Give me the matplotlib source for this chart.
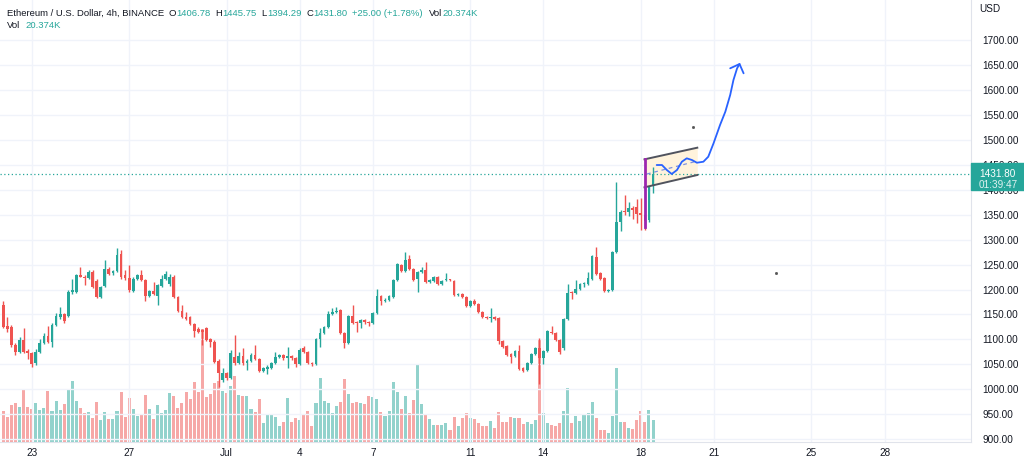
import matplotlib
matplotlib.use('Agg')
import matplotlib.pyplot as plt
import matplotlib.transforms as mtransforms
from matplotlib.patches import Rectangle
import numpy as np
import pandas as pd

# ETH/USD 4h candles (Binance)
opens = [1169, 1126, 1125, 1089, 1075, 1099, 1077, 1073, 1052, 1075,
         1092, 1106, 1095, 1129, 1144, 1150, 1147, 1195, 1196, 1229,
         1226, 1224, 1236, 1218, 1184, 1207, 1242, 1234, 1238, 1272,
         1229, 1224, 1198, 1221, 1230, 1220, 1187, 1198, 1186, 1208,
         1222, 1212, 1226, 1184, 1157, 1145, 1144, 1131, 1120, 1119,
         1122, 1100, 1095, 1057, 1018, 1032, 1022, 1065, 1053, 1067,
         1052, 1057, 1069, 1060, 1037, 1041, 1043, 1053, 1065, 1068,
         1062, 1066, 1062, 1051, 1082, 1074, 1053, 1051, 1101, 1112,
         1125, 1151, 1154, 1159, 1112, 1093, 1147, 1135, 1132, 1139,
         1135, 1133, 1153, 1187, 1176, 1179, 1184, 1220, 1249, 1238,
         1262, 1242, 1222, 1236, 1240, 1216, 1218, 1226, 1211, 1219,
         1220, 1218, 1189, 1191, 1184, 1166, 1176, 1170, 1155, 1144,
         1142, 1145, 1143, 1097, 1087, 1071, 1066, 1077, 1043, 1038,
         1053, 1071, 1082, 1062, 1077, 1115, 1113, 1099, 1082, 1141,
         1196, 1193, 1201, 1211, 1211, 1222, 1266, 1233, 1224, 1197,
         1199, 1276, 1336, 1358, 1355, 1363, 1365, 1354, 1350, 1339,
         1406.78]
highs = [1176, 1145, 1128, 1092, 1105, 1122, 1080, 1075, 1080, 1100,
         1112, 1127, 1132, 1152, 1165, 1153, 1200, 1222, 1232, 1246,
         1229, 1240, 1239, 1221, 1208, 1259, 1245, 1240, 1284, 1279,
         1239, 1249, 1225, 1232, 1239, 1222, 1200, 1216, 1212, 1229,
         1238, 1232, 1230, 1186, 1169, 1155, 1146, 1133, 1124, 1121,
         1125, 1102, 1098, 1060, 1042, 1035, 1079, 1109, 1075, 1082,
         1060, 1072, 1089, 1062, 1045, 1048, 1055, 1075, 1070, 1070,
         1084, 1068, 1064, 1082, 1086, 1076, 1055, 1103, 1122, 1127,
         1156, 1162, 1165, 1161, 1114, 1149, 1169, 1137, 1141, 1141,
         1137, 1155, 1202, 1189, 1182, 1188, 1222, 1254, 1251, 1276,
         1269, 1244, 1238, 1246, 1256, 1222, 1228, 1228, 1220, 1233,
         1222, 1220, 1193, 1193, 1186, 1178, 1180, 1172, 1157, 1146,
         1162, 1147, 1145, 1099, 1089, 1073, 1079, 1089, 1045, 1055,
         1073, 1084, 1102, 1079, 1119, 1127, 1115, 1101, 1143, 1212,
         1198, 1220, 1213, 1216, 1236, 1269, 1286, 1235, 1226, 1202,
         1278, 1416, 1360, 1389, 1376, 1368, 1381, 1383, 1352, 1408,
         1445.75]
lows = [1122, 1115, 1085, 1069, 1072, 1072, 1060, 1045, 1049, 1072,
        1090, 1093, 1085, 1126, 1140, 1133, 1145, 1192, 1194, 1226,
        1209, 1222, 1203, 1182, 1182, 1205, 1230, 1230, 1236, 1222,
        1220, 1196, 1196, 1219, 1218, 1176, 1184, 1190, 1169, 1206,
        1220, 1208, 1182, 1154, 1142, 1138, 1129, 1105, 1112, 1089,
        1097, 1085, 1052, 1005, 1015, 1018, 1020, 1048, 1050, 1048,
        1038, 1055, 1058, 1035, 1035, 1031, 1041, 1051, 1063, 1058,
        1042, 1058, 1044, 1049, 1072, 1050, 1047, 1049, 1085, 1110,
        1123, 1149, 1152, 1110, 1082, 1090, 1131, 1115, 1122, 1130,
        1126, 1131, 1151, 1169, 1174, 1177, 1182, 1218, 1236, 1236,
        1240, 1218, 1196, 1234, 1214, 1214, 1216, 1209, 1209, 1217,
        1217, 1187, 1187, 1182, 1164, 1164, 1168, 1153, 1142, 1140,
        1135, 1138, 1090, 1083, 1067, 1053, 1064, 1038, 1035, 1036,
        1051, 1069, 1010, 1050, 1075, 1110, 1097, 1070, 1078, 1139,
        1180, 1191, 1199, 1205, 1209, 1220, 1230, 1220, 1195, 1195,
        1197, 1274, 1318, 1350, 1348, 1341, 1333, 1320, 1320, 1336,
        1394.29]
closes = [1124, 1120, 1089, 1075, 1099, 1075, 1072, 1051, 1075, 1092,
          1106, 1095, 1129, 1146, 1150, 1136, 1196, 1199, 1229, 1226,
          1224, 1236, 1206, 1184, 1206, 1242, 1232, 1237, 1269, 1226,
          1224, 1199, 1222, 1229, 1220, 1187, 1198, 1192, 1209, 1222,
          1232, 1226, 1184, 1156, 1144, 1141, 1131, 1117, 1115, 1115,
          1099, 1095, 1055, 1032, 1032, 1022, 1072, 1053, 1067, 1052,
          1057, 1069, 1060, 1037, 1043, 1045, 1053, 1065, 1068, 1062,
          1066, 1062, 1051, 1079, 1074, 1052, 1051, 1101, 1112, 1125,
          1151, 1154, 1157, 1112, 1093, 1147, 1133, 1132, 1139, 1134,
          1133, 1153, 1187, 1176, 1179, 1186, 1220, 1252, 1238, 1260,
          1242, 1220, 1236, 1240, 1216, 1220, 1226, 1211, 1218, 1221,
          1219, 1189, 1191, 1184, 1166, 1176, 1170, 1155, 1144, 1142,
          1145, 1140, 1097, 1085, 1069, 1065, 1077, 1040, 1037, 1053,
          1071, 1082, 1062, 1077, 1117, 1112, 1099, 1075, 1141, 1194,
          1193, 1201, 1211, 1212, 1224, 1267, 1232, 1222, 1197, 1200,
          1276, 1336, 1356, 1355, 1363, 1359, 1351, 1349, 1338, 1406,
          1431.80]
# volume in thousands of ETH
volumes = [29.1, 23.5, 34.8, 36.4, 33.2, 49.5, 32.9, 31.3, 36.7, 30.1,
           32.3, 48.0, 29.1, 38.5, 29.8, 35.4, 49.5, 57.4, 38.5, 31.7,
           27.0, 28.5, 22.3, 37.9, 21.0, 27.9, 21.6, 21.3, 29.1, 47.0,
           23.5, 41.7, 30.7, 24.4, 26.6, 44.2, 30.7, 21.6, 34.8, 27.6,
           29.8, 46.1, 43.6, 31.7, 36.7, 47.3, 40.1, 56.4, 47.0, 105.9,
           42.3, 45.4, 55.8, 57.4, 47.9, 46.4, 52.7, 62.1, 44.2, 43.2,
           43.2, 30.7, 28.2, 40.7, 17.9, 25.4, 26.6, 23.8, 15.4, 18.8,
           41.7, 19.1, 22.3, 20.4, 26.0, 29.1, 15.0, 37.0, 59.9, 38.5,
           37.0, 27.5, 33.8, 37.9, 58.9, 45.4, 37.0, 37.9, 36.4, 35.4,
           42.9, 42.3, 40.1, 28.2, 24.4, 28.8, 56.7, 46.7, 31.0, 42.9,
           27.3, 39.8, 72.1, 35.4, 25.4, 21.3, 15.7, 16.0, 16.0, 18.2,
           11.3, 23.5, 15.0, 22.9, 27.3, 22.3, 21.3, 17.6, 15.0, 15.0,
           19.7, 13.5, 27.9, 19.1, 19.1, 23.5, 22.3, 22.3, 17.2, 19.1,
           16.6, 20.4, 96.5, 27.3, 18.2, 16.0, 15.0, 18.2, 29.1, 50.5,
           18.2, 24.1, 19.7, 25.4, 27.6, 37.6, 22.9, 11.0, 11.3, 8.5,
           24.4, 69.9, 19.1, 19.1, 12.8, 11.9, 21.0, 29.1, 19.1, 29.8,
           20.374]

start_time = pd.Timestamp('2022-06-21 20:00')
tick_dates = ['2022-06-23', '2022-06-27', '2022-07-01', '2022-07-04', '2022-07-07',
              '2022-07-11', '2022-07-14', '2022-07-18', '2022-07-21', '2022-07-25',
              '2022-07-28']
tick_labels = ['23', '27', 'Jul', '4', '7', '11', '14', '18', '21', '25', '28']
price_ticks = np.arange(900, 1701, 50)
last_price = 1431.80
countdown = '01:39:47'

# (text, 'k' = label / 'v' = value, gap before it in px)
header_line1 = [('Ethereum / U.S. Dollar, 4h, BINANCE', 'k', 0), ('O', 'k', 5), ('1406.78', 'v', 0),
                ('H', 'k', 5), ('1445.75', 'v', 0), ('L', 'k', 5), ('1394.29', 'v', 0),
                ('C', 'k', 5), ('1431.80', 'v', 0), ('+25.00 (+1.78%)', 'v', 5),
                ('Vol', 'k', 6), ('20.374K', 'v', 0)]
header_line2 = [('Vol', 'k', 0), ('20.374K', 'v', 6)]

# hand drawn bull flag + projected path, in (candle number, price)
pole_x = 158
pole_prices = [1325, 1462]
flag_x = [157.9, 170.9]
flag_top = [1460.9, 1484.2]
flag_bottom = [1404.8, 1429.5]
flag_mid = [1431.5, 1457.5]
path_x = [160.9, 162.2, 163.4, 164.6, 165.9, 167.1, 168.3, 169.6, 170.8, 172.4,
          173.6, 174.9, 176.5, 177.8, 179.0, 179.8, 180.7, 181.3]
path_y = [1449.5, 1449.5, 1439.5, 1431.5, 1439.5, 1456.1, 1462.9, 1459.5, 1454.1, 1456.1,
          1466.1, 1493.0, 1529.7, 1556.3, 1589.8, 1619.8, 1643.3, 1651.9]
arrow_x = [179.0, 181.3, 182.3]
arrow_y = [1643.3, 1651.9, 1633.3]
dots_x = [169.9, 190.3]
dots_y = [1525.7, 1233.0]

UP = '#26a69a'
DOWN = '#ef5350'
TEXT = '#131722'
GRID = '#f0f3fa'
BORDER = '#e0e3eb'

plt.rcParams['font.family'] = ['Liberation Sans', 'DejaVu Sans']

o = np.array(opens)
h = np.array(highs)
l = np.array(lows)
c = np.array(closes)
x = np.arange(len(closes))
up = c >= o
cols = np.where(up, UP, DOWN)

fig = plt.figure(figsize=(10.24, 4.59), dpi=100)
fig.patch.set_facecolor('white')
pos = [0, 17 / 459, 971 / 1024, 442 / 459]

# volume pane sits behind the price axes
axv = fig.add_axes(pos)
axv.axis('off')
axv.bar(x, volumes, width=0.75, color=cols, alpha=0.5, linewidth=0)
axv.set_ylim(0, 415.6)

ax = fig.add_axes(pos)
ax.patch.set_visible(False)
ax.vlines(x, l, h, colors=cols, linewidth=1, zorder=3)
ax.bar(x, np.maximum(np.abs(c - o), 1.5), bottom=np.minimum(o, c), width=0.68,
       color=cols, linewidth=0, zorder=4)

xlim = (-0.81, 238.3)
ax.set_xlim(xlim)
axv.set_xlim(xlim)
ax.set_ylim(894.4, 1780.2)

tick_pos = [(pd.Timestamp(d) - start_time) / pd.Timedelta(hours=4) for d in tick_dates]
ax.set_xticks(tick_pos)
ax.set_xticklabels(tick_labels)
ax.set_yticks(price_ticks)
ax.set_yticklabels(['%.2f' % p for p in price_ticks])
ax.yaxis.tick_right()
ax.tick_params(axis='both', length=0, labelsize=7.2, colors=TEXT)
ax.tick_params(axis='y', pad=8)
ax.tick_params(axis='x', pad=4)
ax.grid(True, color=GRID, linewidth=1)
ax.set_axisbelow(True)
for s in ['top', 'left']:
    ax.spines[s].set_visible(False)
for s in ['right', 'bottom']:
    ax.spines[s].set_color(BORDER)

# current price line + label
ax.axhline(last_price, color=UP, linestyle=(0, (1, 2)), linewidth=0.9, zorder=2)
trans = mtransforms.blended_transform_factory(ax.transAxes, ax.transData)
ax.add_patch(Rectangle((1.0, 1399.5), 0.06, 54, transform=trans, color=UP,
                       clip_on=False, zorder=10))
ax.text(1.008, last_price, '%.2f' % last_price, transform=trans, color='white',
        fontsize=7.2, va='center', ha='left', zorder=11, clip_on=False)
ax.text(1.008, 1410, countdown, transform=trans, color='white', alpha=0.85,
        fontsize=7.2, va='center', ha='left', zorder=11, clip_on=False)
fig.text(979 / 1024, 1 - 9 / 459, 'USD', color=TEXT, fontsize=7.2, va='center')

# drawings
ax.fill_between(flag_x, flag_bottom, flag_top, color='#fff2d6', alpha=0.85, zorder=1, linewidth=0)
ax.plot(flag_x, flag_top, color='#50535e', linewidth=1.4, zorder=5)
ax.plot(flag_x, flag_bottom, color='#50535e', linewidth=1.4, zorder=5)
ax.plot([flag_x[0] + 0.6, flag_x[1]], flag_mid, color='#7b8fe0', linewidth=0.9,
        linestyle=(0, (3, 3)), zorder=5)
ax.plot([pole_x, pole_x], pole_prices, color='#9c27b0', linewidth=2, zorder=6)
ax.plot(path_x, path_y, color='#2962ff', linewidth=1.3, zorder=7, solid_capstyle='round')
ax.plot(arrow_x, arrow_y, color='#2962ff', linewidth=1.3, zorder=7, solid_capstyle='round')
ax.plot(dots_x, dots_y, 's', color='#555555', markersize=1, zorder=7)


def header(parts, x0, y0):
    prev = None
    for s, kind, gap in parts:
        color = UP if kind == 'v' else TEXT
        if prev is None:
            prev = fig.text(x0, y0, s, color=color, fontsize=6.8, va='center')
        else:
            prev = ax.annotate(s, xy=(1, 0), xycoords=prev, xytext=(gap, 0),
                               textcoords='offset pixels', va='bottom', ha='left',
                               color=color, fontsize=6.8, annotation_clip=False)


header(header_line1, 6.7 / 1024, 1 - 13 / 459)
header(header_line2, 6.7 / 1024, 1 - 26 / 459)

plt.savefig('out.png', dpi=100, facecolor='white')
